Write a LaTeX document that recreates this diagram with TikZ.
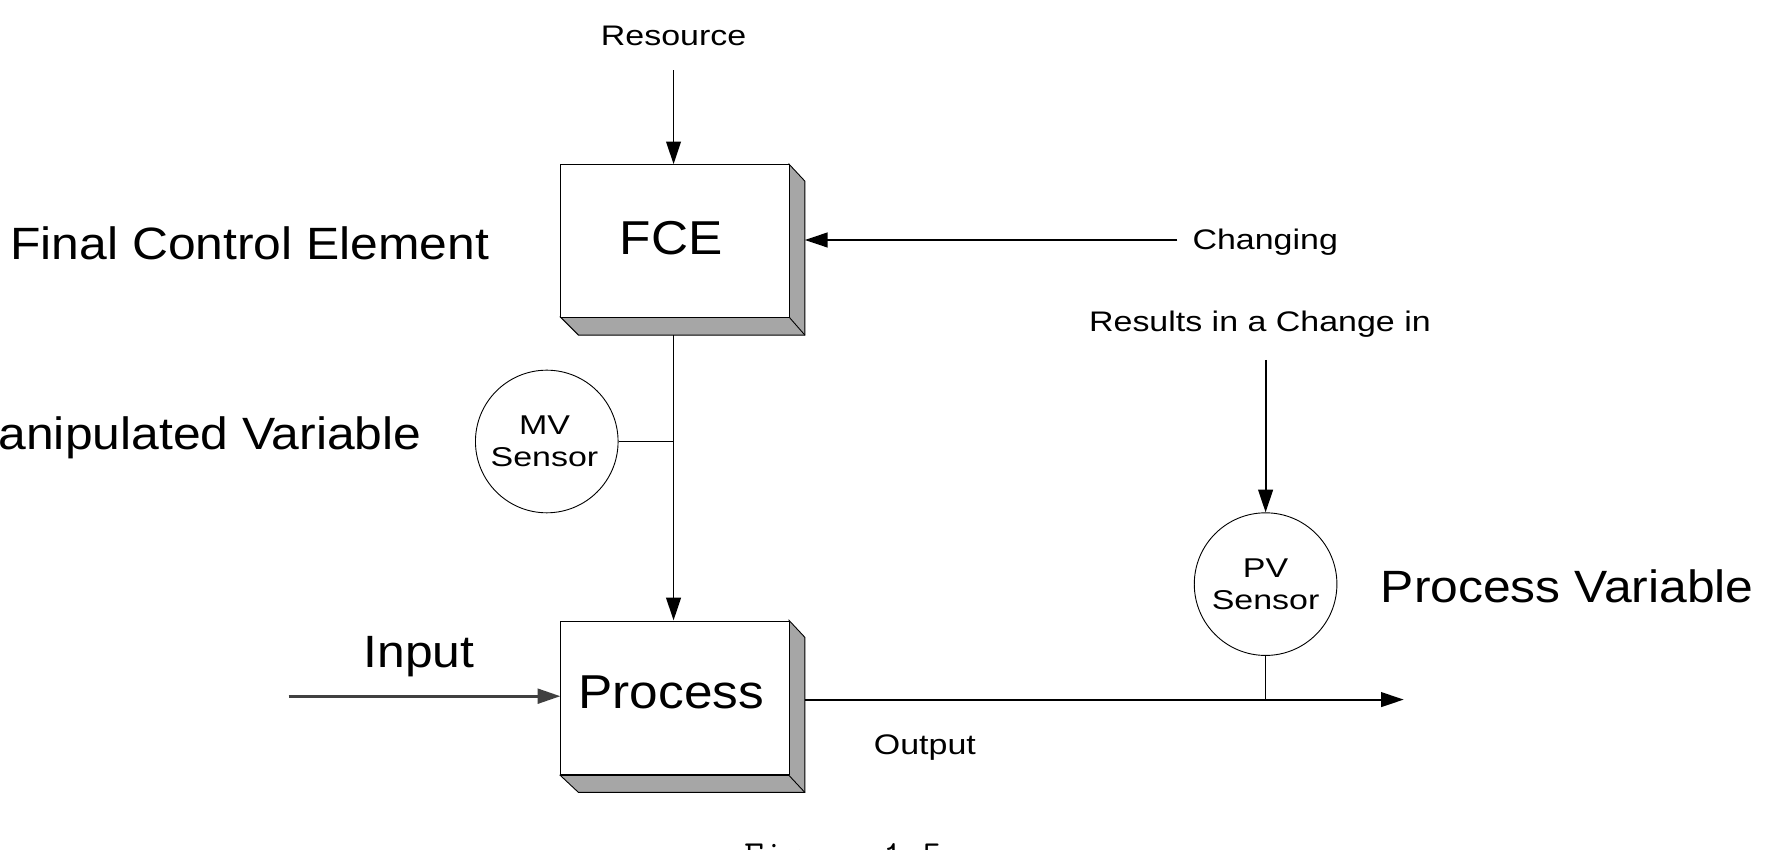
\documentclass[tikz,border=0pt]{standalone}
\usepackage{fontspec}
\setmainfont{Liberation Sans}
\usetikzlibrary{arrows.meta}
\begin{document}
\begin{tikzpicture}[x=0.5pt,y=-0.5pt,
  big/.style={font=\fontsize{20}{22}\selectfont,xscale=1.1},
  small/.style={font=\fontsize{12.5}{14}\selectfont,xscale=1.2},
  sens/.style={draw,circle,minimum size=63pt,inner sep=0pt,align=center,font=\fontsize{12}{13}\selectfont},
  arr/.style={-{Triangle[length=10pt,width=6.5pt]},line width=0.8pt},
  box/.style={draw,fill=white,minimum width=101pt,minimum height=67.5pt,inner sep=0pt}]
\clip (0,0) rectangle (1568,750);
\fill[white] (0,0) rectangle (1568,750);
% FCE box
\filldraw[fill=gray!70] (495,280) -- (697,280) -- (697,145) -- (711,160) -- (711,296) -- (511,296) -- cycle;
\draw (697,280) -- (711,296);
\node[box] (fce) at (596,212.5) {};
\node[font=\fontsize{21}{23}\selectfont,xscale=1.08] (fcet) at (593,210) {FCE};
% Process box
\filldraw[fill=gray!70] (495,685) -- (697,685) -- (697,548) -- (711,563) -- (711,700) -- (511,700) -- cycle;
\draw (697,685) -- (711,700);
\node[box] (proc) at (596,616.5) {};
\node[font=\fontsize{21}{23}\selectfont,xscale=1.08] (proct) at (593,612) {Process};
% texts
\node[small] (res) at (595,32) {Resource};
\node[big,anchor=east] (fcel) at (440,215) {Final Control Element};
\node[small,anchor=west] (chg) at (1045,214) {Changing};
\node[small] (ric) at (1113,286) {Results in a Change in};
\node[big,anchor=east] (mvl) at (380,387) {Manipulated Variable};
\node[big,anchor=west] (pvl) at (1212,518) {Process Variable};
\node[big] (inp) at (370,580) {Input};
\node[small] (outl) at (817,660) {Output};
\node[font=\ttfamily\fontsize{17}{19}\selectfont,anchor=north] (fig) at (745,738) {Figure 1.5};
% sensors
\node[sens] (mv) at (483,390) {};
\node[align=center,font=\fontsize{12}{14}\selectfont,xscale=1.25] (mvt) at (481,390) {MV\\Sensor};
\node[sens] (pv) at (1118,516) {};
\node[align=center,font=\fontsize{12}{14}\selectfont,xscale=1.25] (pvt) at (1118,516) {PV\\Sensor};
% connectors
\coordinate (resS) at (595,62);
\coordinate (chgS) at (1040,212);
\coordinate (ricS) at (1118,318);
\coordinate (inS) at (255,615);
\coordinate (outE) at (1240,618);
\coordinate (mvJ) at (595,390);
\coordinate (pvJ) at (1118,618);
\draw[arr] (resS) -- (595,145);
\draw[arr] (chgS) -- (711,212);
\draw[arr] (ricS) -- (pv.north);
\draw[arr] (595,296) -- (595,548);
\draw (mv.east) -- (mvJ);
\draw[arr,line width=1.2pt,draw=black!75] (inS) -- (495,615);
\draw[arr] (711,618) -- (outE);
\draw (pv.south) -- (pvJ);
\end{tikzpicture}
\end{document}
